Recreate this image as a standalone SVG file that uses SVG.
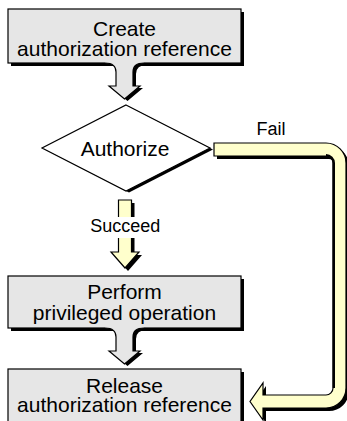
<svg xmlns="http://www.w3.org/2000/svg" width="347" height="421" viewBox="0 0 347 421">
  <style>
    .t { font-family: "Liberation Sans", Arial, sans-serif; fill: #000; text-anchor: middle; }
    .big { font-size: 21px; }
    .lbl { font-size: 18px; }
    .box { fill: #E6E6E6; stroke: #000; stroke-width: 1.2; }
    .shadow { fill: #000; stroke: none; }
    .gfill { fill: #E6E6E6; stroke: none; }
    .yel { fill: #FFFFCC; stroke: #000; stroke-width: 1.2; stroke-linejoin: miter; }
    .line { fill: none; stroke: #000; stroke-width: 1.2; }
  </style>
  <defs>
    <path id="hollowFill" d="M 105 -2 L 144 -2 L 144 0 Q 133 0 133 9 L 133 23 L 140 23 L 124.5 36 L 109 23 L 116 23 L 116 9 Q 116 0 105 0 Z"/>
    <path id="hollowLine" d="M 105 0 Q 116 0 116 9 L 116 23 L 109 23 L 124.5 36 L 140 23 L 133 23 L 133 9 Q 133 0 144 0"/>
  </defs>
  <rect width="347" height="421" fill="#fff"/>

  <g id="node-create">
    <rect class="shadow" x="11" y="12" width="233" height="54"/>
    <rect class="box" x="8" y="9" width="233" height="54"/>
    <text class="t big" x="124.5" y="36">Create</text>
    <text class="t big" x="124.5" y="56">authorization reference</text>
  </g>

  <g id="node-authorize">
    <polygon class="shadow" points="126,105 210,148 126,191 42,148" transform="translate(3,1.5)"/>
    <polygon points="126,105 210,148 126,191 42,148" fill="#fff" stroke="#000" stroke-width="1.2"/>
    <text class="t big" x="125" y="155.5">Authorize</text>
  </g>

  <g id="node-perform">
    <rect class="shadow" x="11" y="279" width="233" height="52"/>
    <rect class="box" x="8" y="276" width="233" height="52"/>
    <text class="t big" x="124.5" y="299">Perform</text>
    <text class="t big" x="124.5" y="320">privileged operation</text>
  </g>

  <g id="node-release">
    <rect class="shadow" x="11" y="372" width="233" height="54"/>
    <rect class="box" x="8" y="369" width="233" height="54"/>
    <text class="t big" x="124.5" y="393">Release</text>
    <text class="t big" x="124.5" y="411.5">authorization reference</text>
  </g>

  <g id="connectors">
    <!-- Create -> Authorize -->
    <g transform="translate(0,63)">
      <use href="#hollowFill" class="shadow" transform="translate(3,2)"/>
      <use href="#hollowFill" class="gfill"/>
      <use href="#hollowLine" class="line"/>
    </g>
    <!-- Perform -> Release -->
    <g transform="translate(0,328)">
      <use href="#hollowFill" class="shadow" transform="translate(3,2)"/>
      <use href="#hollowFill" class="gfill"/>
      <use href="#hollowLine" class="line"/>
    </g>
    <!-- Succeed -->
    <g>
      <path class="shadow" transform="translate(3,3)" d="M 118.5 200 L 131.5 200 L 131.5 252 L 139 252 L 125 268 L 111 252 L 118.5 252 Z"/>
      <path class="yel" d="M 118.5 200 L 131.5 200 L 131.5 252 L 139 252 L 125 268 L 111 252 L 118.5 252 Z"/>
      <rect x="86" y="217" width="78" height="21" fill="#fff"/>
      <text class="t lbl" x="125.3" y="232">Succeed</text>
    </g>
    <!-- Fail -->
    <g>
      <path class="shadow" transform="translate(3,3)" d="M 214 143 L 326 143 A 20 20 0 0 1 346 163 L 346 388 A 20 20 0 0 1 326 408 L 263 408 L 263 420 L 250 401.5 L 263 383 L 263 395 L 326 395 A 7 7 0 0 0 333 388 L 333 163 A 7 7 0 0 0 326 156 L 214 156 Z"/>
      <path class="yel" d="M 214 143 L 326 143 A 20 20 0 0 1 346 163 L 346 388 A 20 20 0 0 1 326 408 L 263 408 L 263 420 L 250 401.5 L 263 383 L 263 395 L 326 395 A 7 7 0 0 0 333 388 L 333 163 A 7 7 0 0 0 326 156 L 214 156 Z"/>
      <path d="M 333.8 388 L 333.8 163 A 7.8 7.8 0 0 0 326 155.2" fill="none" stroke="#000" stroke-width="2.4"/>
      <text class="t lbl" x="271" y="135">Fail</text>
    </g>
  </g>
</svg>
